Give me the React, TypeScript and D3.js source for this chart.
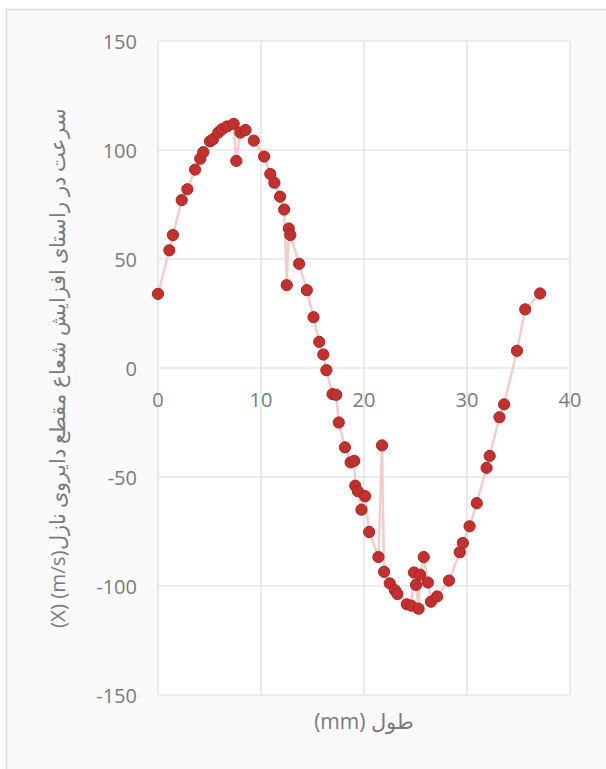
import React from 'react';
import * as d3 from 'd3';

// length along the nozzle (mm)
const xValues = [
  0, 1.1, 1.45, 2.3, 2.85, 3.6, 4.1, 4.4, 5.05, 5.35, 5.85, 6.2, 6.7, 7.35, 7.6, 8.0, 8.5, 9.3,
  10.3, 10.9, 11.3, 11.85, 12.25, 12.5, 12.7, 12.85, 13.7, 14.45, 15.1, 15.65, 16.05, 16.35,
  16.95, 17.3, 17.55, 18.15, 18.7, 19.05, 19.15, 19.4, 19.75, 20.1, 20.5, 21.4, 21.75, 21.95,
  22.5, 23.0, 23.25, 24.15, 24.6, 24.85, 25.05, 25.3, 25.45, 25.8, 26.2, 26.5, 27.1, 28.25,
  29.3, 29.6, 30.25, 30.95, 31.9, 32.2, 33.15, 33.6, 34.85, 35.65, 37.1,
];

// velocity along X (m/s)
const yValues = [
  34, 54, 61, 77, 82, 91, 96, 99, 104, 105, 108, 109.5, 110.8, 112, 95, 108, 109.2, 104.3,
  97, 89, 85, 78.6, 72.7, 38, 64, 61, 47.8, 35.7, 23.3, 12, 6.2, -1,
  -12, -12.3, -25, -36.4, -43.3, -42.6, -54, -56.5, -65, -58.8, -75.2, -86.7, -35.5, -93.5,
  -98.8, -101.9, -103.7, -108.4, -109, -93.8, -99.5, -110.4, -94.8, -86.7, -98.4, -107.2, -104.8, -97.5,
  -84.5, -80.3, -72.6, -62, -45.8, -40.3, -22.6, -16.7, 7.9, 26.9, 34.2,
];

const xTicks = [0, 10, 20, 30, 40];
const yTicks = [-150, -100, -50, 0, 50, 100, 150];

const xTitle = '(mm) طول';
const yTitle = '(X) (m/s)سرعت در راستای افزایش شعاع مقطع دایروی نازل';

const App = () => {
  const width = 606;
  const height = 769;

  const x = d3.scaleLinear().domain([0, 40]).range([158, 570]);
  const y = d3.scaleLinear().domain([-150, 150]).range([695, 41]);

  const points = xValues.map((v, i) => [v, yValues[i]] as [number, number]);
  const line = d3.line<[number, number]>()
    .x((d) => x(d[0]))
    .y((d) => y(d[1]));

  const font = '"Open Sans", sans-serif';
  const textColor = '#7a7a7a';

  return (
    <svg width={width} height={height} style={{ position: 'absolute', left: 0, top: 0 }}>
      <rect x={0} y={0} width={width} height={height} fill="#ffffff" />
      <rect x={6.5} y={9.5} width={620} height={780} fill="#fafafa" stroke="#dedede" strokeWidth={1.5} />
      <rect x={x(0)} y={y(150)} width={x(40) - x(0)} height={y(-150) - y(150)} fill="#ffffff" />

      {/* grid */}
      {xTicks.map((t) => (
        <line key={'gx' + t} x1={x(t)} x2={x(t)} y1={y(150)} y2={y(-150)} stroke="#dcdcdc" strokeWidth={1.2} />
      ))}
      {yTicks.map((t) => (
        <line key={'gy' + t} x1={x(0)} x2={x(40)} y1={y(t)} y2={y(t)} stroke="#dcdcdc" strokeWidth={1.2} />
      ))}

      {/* y tick labels */}
      {yTicks.map((t) => (
        <text key={'ty' + t} x={137} y={y(t) + 7.5} textAnchor="end" fontFamily={font} fontSize={20} fill={textColor}>
          {t}
        </text>
      ))}

      {/* x tick labels sit on the zero line */}
      {xTicks.map((t) => (
        <text key={'tx' + t} x={x(t)} y={y(0) + 39} textAnchor="middle" fontFamily={font} fontSize={20} fill={textColor}>
          {t}
        </text>
      ))}

      {/* series */}
      <path d={line(points) || ''} fill="none" stroke="#f5cccc" strokeWidth={2.5} />
      {points.map((p, i) => (
        <circle key={i} cx={x(p[0])} cy={y(p[1])} r={5.6} fill="#c3302d" stroke="#a82624" strokeWidth={1} />
      ))}

      {/* axis titles */}
      <text x={x(20)} y={729} textAnchor="middle" direction="ltr" fontFamily={font} fontSize={21} fill={textColor}>
        {xTitle}
      </text>
      <text
        transform={`translate(65, ${(y(150) + y(-150)) / 2}) rotate(-90)`}
        textAnchor="middle"
        direction="ltr"
        fontFamily={font}
        fontSize={20.5}
        fill={textColor}
      >
        {yTitle}
      </text>
    </svg>
  );
};

export default App;
